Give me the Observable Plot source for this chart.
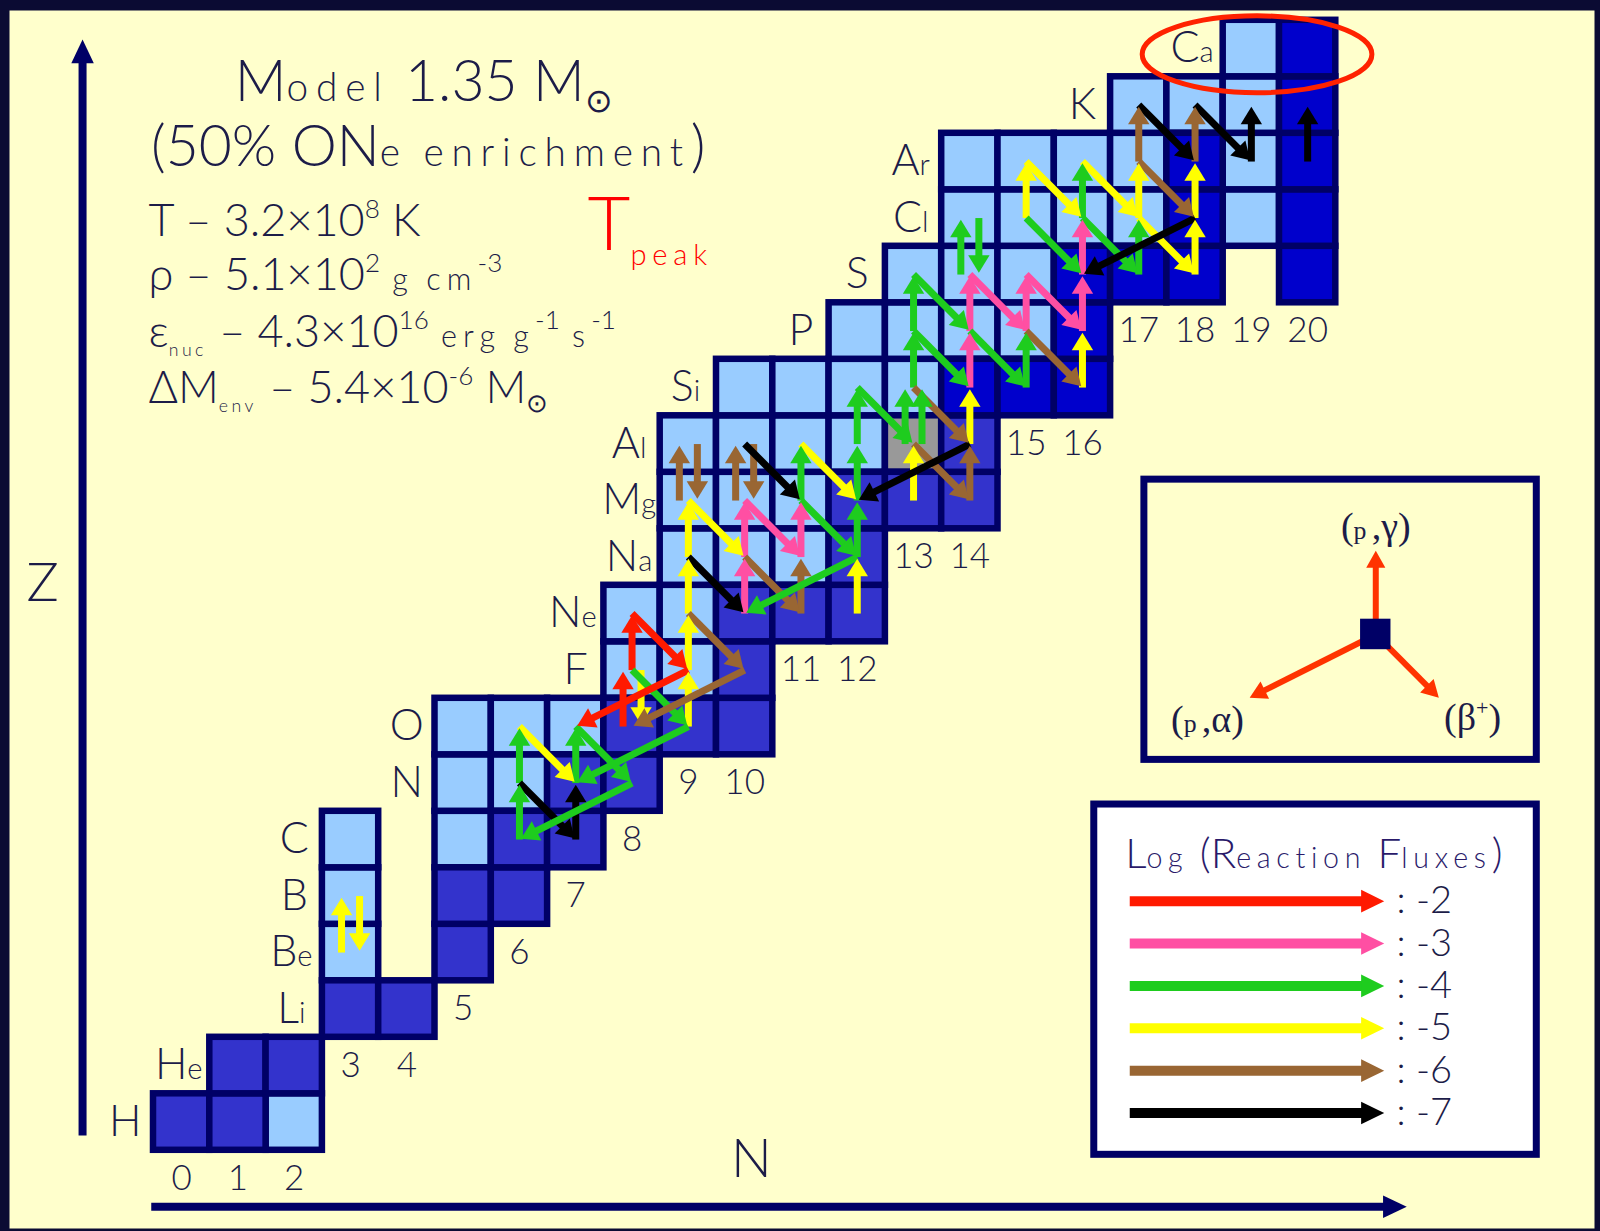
<!DOCTYPE html>
<html>
<head>
<meta charset="utf-8">
<script src="https://cdn.jsdelivr.net/npm/d3@7"></script>
<script src="https://cdn.jsdelivr.net/npm/@observablehq/plot@0.6"></script>
<style>
  html, body { margin: 0; padding: 0; background: #0b0b33; }
  #chart svg { display: block; }
</style>
</head>
<body>
<div id="chart"></div>
<script>
// ---- Chart of nuclides, Z = 1..20 ----
const elements = ["H","He","Li","Be","B","C","N","O","F","Ne","Na","Mg","Al","Si","P","S","Cl","Ar","K","Ca"];
// first neutron number drawn in each row
const rowStart = [0,1,3,3,3,3,5,5,8,8,9,9,9,10,12,13,14,14,17,19];
// one character per N from rowStart: s = stable, u = unstable, g = 26Al (ground + isomer), . = not shown
const rowKinds = ["ssu","ss","ss","u.s","u.ss","u.uss","uuss","uuusss","uus","uusss","uuus","uuusss","uuuugs",
                  "uuuusss","uuuus","uuusss.s","uuuusus","uuuusus","uuus","us"];
// Z row in which each neutron-number label N = 0..20 is written
const neutronLabelRow = [0,0,0,2,2,3,4,5,6,7,7,9,9,11,11,13,13,15,15,15,15];

// ---- Log of the integrated reaction fluxes ----
const fluxLevels = [-2, -3, -4, -5, -6, -7];
const fluxColors = ["#ff1a00", "#ff4fa3", "#1ecc1e", "#ffff00", "#996633", "#000000"];

// [N, Z, log flux] of the target nucleus
const pGamma = [
  [3,4,-5],
  [6,6,-4],[6,7,-4],[7,6,-7],[7,7,-4],
  [8,8,-2],[8,9,-2],
  [9,8,-5],[9,9,-5],[9,10,-5],[9,11,-5],
  [9,12,-6],[10,12,-6],
  [10,10,-3],[10,11,-3],[11,11,-3],[11,10,-6],[11,12,-4],
  [12,10,-5],[12,11,-4],[12,12,-4],[12,13,-4],
  [13,12,-5],[13,13,-4],[13,13,-4],[14,12,-6],[14,13,-5],
  [13,14,-4],[13,15,-4],[14,14,-3],[14,15,-3],[14,16,-4],
  [15,14,-4],[15,15,-3],[16,14,-5],[16,15,-3],[16,16,-3],
  [15,17,-5],[16,17,-4],[17,16,-4],[17,17,-5],[17,18,-6],
  [18,16,-5],[18,17,-5],[18,18,-6],[19,18,-7],[20,18,-7]
];
const gammaP = [[3,5,-5],[8,9,-5],[9,13,-6],[10,13,-6],[14,17,-4]];
const betaPlus = [
  [6,7,-7],[6,8,-5],[7,8,-4],[8,9,-4],[8,10,-2],[9,10,-6],[9,11,-7],[9,12,-5],
  [10,11,-6],[10,12,-3],[10,13,-7],[11,12,-4],[11,13,-5],
  [12,14,-4],[13,13,-6],[13,14,-6],[13,15,-4],[13,16,-4],
  [14,15,-4],[14,16,-3],[15,15,-6],[15,16,-3],[15,17,-4],[15,18,-5],
  [16,17,-4],[16,18,-5],[17,17,-5],[17,18,-6],[17,19,-7],[18,19,-7]
];
const pAlpha = [[8,7,-4],[9,8,-4],[9,9,-2],[10,9,-6],[12,11,-4],[14,13,-7],[18,17,-7]];

// reaction types shown in the key: change in N and Z
const reactionKinds = [
  {label: "(p,γ)", dn: 0, dz: 1},
  {label: "(p,α)", dn: -2, dz: -1},
  {label: "(β^{+})", dn: 1, dz: -1}
];

// ---- cells ----
const cells = [];
rowKinds.forEach((kinds, i) => {
  [...kinds].forEach((k, j) => { if (k !== ".") cells.push({n: rowStart[i] + j, z: i + 1, kind: k}); });
});
const cellRect = (filter, fill) => Plot.rect(cells, {
  filter, x1: d => d.n - 0.5, x2: d => d.n + 0.5, y1: d => d.z - 0.5, y2: d => d.z + 0.5,
  fill, stroke: "#000066", strokeWidth: 6.5
});

// ---- reaction arrows ----
const reactions = [
  ...pGamma.map(([n, z, f]) => ({x1: n, y1: z, x2: n, y2: z + 1, flux: f})),
  ...gammaP.map(([n, z, f]) => ({x1: n, y1: z, x2: n, y2: z - 1, flux: f})),
  ...betaPlus.map(([n, z, f]) => ({x1: n, y1: z, x2: n + 1, y2: z - 1, flux: f})),
  ...pAlpha.map(([n, z, f]) => ({x1: n, y1: z, x2: n - 2, y2: z - 1, flux: f}))
];
// forward/reverse pairs and repeated links are pushed apart sideways
const linkKey = (a, b, c, d) => `${a},${b},${c},${d}`;
const linkCount = d3.rollup(reactions, v => v.length, r => linkKey(r.x1, r.y1, r.x2, r.y2));
const linkSeen = new Map();
reactions.forEach(r => {
  const k = linkKey(r.x1, r.y1, r.x2, r.y2), c = linkCount.get(k), i = linkSeen.get(k) || 0;
  linkSeen.set(k, i + 1);
  const reverse = linkCount.has(linkKey(r.x2, r.y2, r.x1, r.y1));
  r.side = c > 1 ? (i - (c - 1) / 2) * 0.3 : reverse ? 0.16 : 0;
  r.trim = 0.03;
});

// shaft + filled triangular head, in N/Z units
function arrowParts(list, head, half) {
  const shafts = [], heads = [];
  list.forEach((a, i) => {
    const dx = a.x2 - a.x1, dy = a.y2 - a.y1, len = Math.hypot(dx, dy);
    const ux = dx / len, uy = dy / len, nx = -uy, ny = ux;
    const s = a.side || 0, t = a.trim || 0;
    const sx = a.x1 + nx * s, sy = a.y1 + ny * s;
    const tx = a.x2 + nx * s - ux * t, ty = a.y2 + ny * s - uy * t;
    const bx = tx - ux * head, by = ty - uy * head;
    shafts.push({...a, sx, sy, ex: bx + ux * head * 0.35, ey: by + uy * head * 0.35});
    heads.push({...a, id: i, hx: tx, hy: ty},
               {...a, id: i, hx: bx + nx * half, hy: by + ny * half},
               {...a, id: i, hx: bx - nx * half, hy: by - ny * half});
  });
  return {shafts, heads};
}
function arrowMarks(parts, width, color) {
  return [
    Plot.link(parts.shafts, {x1: "sx", y1: "sy", x2: "ex", y2: "ey", stroke: color, strokeWidth: width}),
    Plot.line(parts.heads, {x: "hx", y: "hy", z: "id", fill: color, stroke: "none"})
  ];
}
const fluxParts = arrowParts(reactions, 0.31, 0.19);

// ---- axes arrows ----
const axisParts = arrowParts([
  {x1: -1.76, y1: 0.76, x2: -1.76, y2: 20.16},
  {x1: -0.54, y1: -0.5, x2: 21.76, y2: -0.5}
], 0.42, 0.2);

// ---- key 1: reaction directions ----
const keyCenter = {x: 21.21, y: 9.63};
const keyReach = [1.48, 1.12, 1.12];
const keyLabelShift = [[0, 0.43], [-0.75, -0.39], [0.6, -0.36]];
const keyArrows = reactionKinds.map((r, i) => ({
  x1: keyCenter.x, y1: keyCenter.y,
  x2: keyCenter.x + r.dn * keyReach[i], y2: keyCenter.y + r.dz * keyReach[i]
}));
const keyLabels = reactionKinds.map((r, i) => ({
  label: r.label, x: keyArrows[i].x2 + keyLabelShift[i][0], y: keyArrows[i].y2 + keyLabelShift[i][1]
}));
const keyParts = arrowParts(keyArrows, 0.3, 0.17);

// ---- key 2: flux colours ----
const fluxKey = fluxLevels.map((f, i) => ({flux: f, x1: 16.84, x2: 21.36, y1: 4.91 - 0.75 * i, y2: 4.91 - 0.75 * i}));
const fluxKeyParts = arrowParts(fluxKey, 0.41, 0.2);

// ---- text ----
const ink = "#1c1c48";
const font = "Lato, 'Open Sans', 'DejaVu Sans', sans-serif";
const titleLines = [
  {t: "Model 1.35 M_{⊙}", x: 4.3, y: 19.08, size: 57},
  {t: "(50% ONe enrichment)", x: 4.38, y: 17.93, size: 57}
];
const infoLines = [
  {t: "T – 3.2×10^{8} K", x: -0.59, y: 16.69},
  {t: "ρ – 5.1×10^{2} g cm^{-3}", x: -0.59, y: 15.72},
  {t: "ε_{nuc} – 4.3×10^{16} erg g^{-1} s^{-1}", x: -0.59, y: 14.71},
  {t: "ΔM_{env} – 5.4×10^{-6} M_{⊙}", x: -0.59, y: 13.73}
];

const chart = Plot.plot({
  width: 1600,
  height: 1231,
  margin: 0,
  x: {domain: [-0.5, 20.5], range: [153, 1335.3], axis: null},
  y: {domain: [0.5, 20.5], range: [1149.8, 19.8], axis: null},
  color: {type: "ordinal", domain: fluxLevels, range: fluxColors},
  style: {background: "#0b0b33", overflow: "visible"},
  marks: [
    Plot.frame({fill: "#ffffcc", stroke: "none", insetLeft: 9, insetTop: 10, insetRight: 6, insetBottom: 3}),

    // nuclide cells
    cellRect(d => d.kind === "u", "#99ccff"),
    cellRect(d => d.kind === "g", "#999999"),
    cellRect(d => d.kind === "s" && d.z < 14, "#3333cc"),
    cellRect(d => d.kind === "s" && d.z >= 14, "#0000cc"),

    // element symbols and neutron numbers
    Plot.text(elements.map((el, i) => ({el, n: rowStart[i] - 1, z: i + 1})), {
      x: "n", y: "z", text: "el", fontSize: 43, fontFamily: font, fontWeight: 300, fill: ink
    }),
    Plot.text(neutronLabelRow.map((z, n) => ({n, z})), {
      x: "n", y: "z", text: d => String(d.n), fontSize: 35, fontFamily: font, fontWeight: 300, fill: ink
    }),

    // reaction flux arrows
    ...arrowMarks(fluxParts, 7, "flux"),

    // N and Z axes
    ...arrowMarks(axisParts, 8, "#000066"),
    Plot.text([{t: "Z", x: -2.47, y: 10.53}, {t: "N", x: 10.12, y: 0.33}], {
      x: "x", y: "y", text: "t", fontSize: 54, fontFamily: font, fontWeight: 300, fill: ink
    }),

    // model parameters
    Plot.text(titleLines, {
      x: "x", y: "y", text: "t", fontSize: "size", textAnchor: "middle", lineAnchor: "bottom",
      fontFamily: font, fontWeight: 300, fill: ink
    }),
    Plot.text(infoLines, {
      x: "x", y: "y", text: "t", textAnchor: "start", lineAnchor: "bottom",
      fontSize: 45, fontFamily: font, fontWeight: 300, fill: ink
    }),
    Plot.text([{t: "T_{peak}", x: 7.21, y: 16.43}], {
      x: "x", y: "y", text: "t", textAnchor: "start", lineAnchor: "bottom",
      fontSize: 74, fontFamily: font, fontWeight: 300, fill: "#ff0000"
    }),

    // key 1: reaction directions
    Plot.rect([{x1: 17.1, x2: 24.07, y1: 7.41, y2: 12.37}], {
      x1: "x1", x2: "x2", y1: "y1", y2: "y2", fill: "#ffffcc", stroke: "#000066", strokeWidth: 7
    }),
    ...arrowMarks(keyParts, 6, "#ff3300"),
    Plot.rect([keyCenter], {
      x1: d => d.x - 0.27, x2: d => d.x + 0.27, y1: d => d.y - 0.27, y2: d => d.y + 0.27, fill: "#000066"
    }),
    Plot.text(keyLabels, {
      x: "x", y: "y", text: "label", fontSize: 38, fontFamily: "'Liberation Serif', 'DejaVu Serif', serif", fill: ink
    }),

    // key 2: flux colours
    Plot.rect([{x1: 16.21, x2: 24.07, y1: 0.42, y2: 6.62}], {
      x1: "x1", x2: "x2", y1: "y1", y2: "y2", fill: "#ffffff", stroke: "#000066", strokeWidth: 7
    }),
    Plot.text([{t: "Log (Reaction Fluxes)", x: 16.76, y: 5.5}], {
      x: "x", y: "y", text: "t", textAnchor: "start", lineAnchor: "bottom",
      fontSize: 42, fontFamily: font, fontWeight: 300, fill: "#2a1a6a"
    }),
    ...arrowMarks(fluxKeyParts, 10, "flux"),
    Plot.text(fluxKey, {
      x: 21.58, y: "y1", text: d => `: ${d.flux}`, textAnchor: "start",
      fontSize: 38, fontFamily: font, fontWeight: 300, fill: ink
    })
  ]
});

document.getElementById("chart").append(chart);

// red ring around the calcium row
{
  const X = chart.scale("x"), Y = chart.scale("y");
  const ring = {n: 19.11, z: 19.89, rn: 2.04, rz: 0.68};
  d3.select(chart).append("ellipse")
    .attr("cx", X.apply(ring.n)).attr("cy", Y.apply(ring.z))
    .attr("rx", X.apply(ring.n + ring.rn) - X.apply(ring.n))
    .attr("ry", Y.apply(ring.z - ring.rz) - Y.apply(ring.z))
    .attr("fill", "none").attr("stroke", "#ff2200").attr("stroke-width", 5);
}

// typesetting: ^{..} superscript, _{..} subscript, small spaced lower-case letters
const LOWER = 0.68;
function richText(t) {
  const src = t.textContent;
  if (!/[a-z]|[\^_]\{/.test(src)) return;
  const fs = parseFloat(getComputedStyle(t).fontSize);
  const tokens = [];
  const re = /([\^_])\{([^}]*)\}/g;
  let last = 0, m;
  while ((m = re.exec(src))) {
    if (m.index > last) tokens.push({s: src.slice(last, m.index), mode: "n"});
    tokens.push({s: m[2], mode: m[1] === "^" ? "sup" : "sub"});
    last = re.lastIndex;
  }
  if (last < src.length) tokens.push({s: src.slice(last), mode: "n"});
  while (t.firstChild) t.removeChild(t.firstChild);
  let shift = 0;
  for (const tok of tokens) {
    const size = tok.mode === "n" ? fs : fs * 0.58;
    const target = tok.mode === "sup" ? -fs * 0.4 : tok.mode === "sub" ? fs * 0.2 : 0;
    for (const run of tok.s.match(/[a-z]+|[^a-z]+/g) || []) {
      const ts = document.createElementNS("http://www.w3.org/2000/svg", "tspan");
      const lower = /^[a-z]/.test(run);
      ts.setAttribute("font-size", (lower ? size * LOWER : size).toFixed(1));
      if (lower) ts.setAttribute("letter-spacing", (size * LOWER * 0.2).toFixed(1));
      if (target !== shift) { ts.setAttribute("dy", (target - shift).toFixed(1)); shift = target; }
      ts.textContent = run;
      t.appendChild(ts);
    }
  }
}
chart.querySelectorAll("text").forEach(richText);
</script>
</body>
</html>
